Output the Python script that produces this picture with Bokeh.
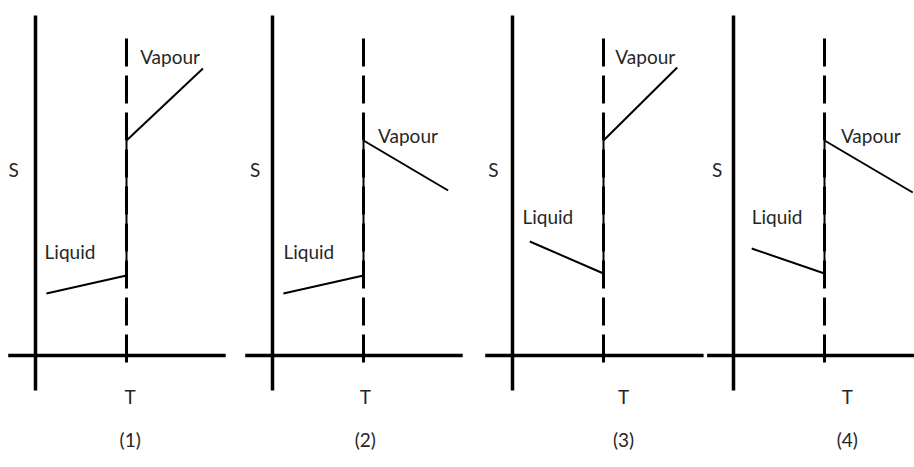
from bokeh.plotting import figure
from bokeh.layouts import row
from bokeh.models import Range1d
from bokeh.core.properties import value
from bokeh.embed import file_html
from bokeh.resources import INLINE

# Entropy (S) against temperature (T) across a phase change, four cases.
# T is in units of the transition temperature, S in arbitrary units.
panel_names = ["(1)", "(2)", "(3)", "(4)"]
T_B = 1.0

liquid_t_start = [0.12, 0.12, 0.19, 0.20]
liquid_s_start = [0.62, 0.62, 1.14, 1.07]
liquid_s_end = [0.80, 0.80, 0.82, 0.82]

vapour_s_start = [2.15, 2.15, 2.15, 2.15]
vapour_t_end = [1.84, 1.93, 1.81, 1.97]
vapour_s_end = [2.87, 1.65, 2.88, 1.63]

# ---- layout ----
PX_PER_T = 91.0
PX_PER_S = 100.0
HEIGHT = 467
ORIGIN_Y_PX = 355
fig_widths = [238, 236, 231, 209]
origin_x_px = [35, 34, 38, 28]

s_axis_span = (-0.35, 3.40)
t_axis_start = [-0.30, -0.30, -0.30, -0.29]
t_axis_end = [2.09, 2.09, 2.10, 2.00]
dash_span = (3.17, -0.08)

# label anchors (left edge / baseline for phase labels)
vapour_label_t = [1.15, 1.16, 1.13, 1.18]
vapour_label_s = [2.99, 2.20, 2.99, 2.20]
liquid_label_t = [0.10, 0.12, 0.11, 0.20]
liquid_label_s = [1.04, 1.04, 1.39, 1.39]
s_label_t = [-0.24, -0.19, -0.21, -0.18]
S_LABEL_S = 1.86
t_label_t = [1.04, 1.02, 1.22, 1.25]
T_LABEL_S = -0.41
NAME_LABEL_S = -0.84

FONT = value("Lato")
FONT_SIZE = "19px"
TEXT_COLOR = "#262626"

s_min = -(HEIGHT - ORIGIN_Y_PX) / PX_PER_S
s_max = ORIGIN_Y_PX / PX_PER_S

figs = []
for i, name in enumerate(panel_names):
    w = fig_widths[i]
    o = origin_x_px[i]
    p = figure(
        width=w, height=HEIGHT,
        x_range=Range1d(-o / PX_PER_T, (w - o) / PX_PER_T),
        y_range=Range1d(s_min, s_max),
        x_axis_type=None, y_axis_type=None,
        output_backend="svg", toolbar_location=None,
        min_border=0, outline_line_color=None,
        background_fill_color="white", border_fill_color="white",
    )
    p.grid.visible = False

    # S and T axes crossing at the origin
    p.segment(x0=[0, t_axis_start[i]], y0=[s_axis_span[0], 0],
              x1=[0, t_axis_end[i]], y1=[s_axis_span[1], 0],
              line_color="black", line_width=3.5)

    # transition temperature isotherm
    p.line(x=[T_B, T_B], y=list(dash_span), line_color="black",
           line_width=3, line_dash="28 9")

    # entropy jump at the transition
    p.line(x=[T_B, T_B], y=[liquid_s_end[i], vapour_s_start[i]],
           line_color="black", line_width=2)

    # liquid branch
    p.line(x=[liquid_t_start[i], T_B], y=[liquid_s_start[i], liquid_s_end[i]],
           line_color="black", line_width=2)

    # vapour branch
    p.line(x=[T_B, vapour_t_end[i]], y=[vapour_s_start[i], vapour_s_end[i]],
           line_color="black", line_width=2)

    p.text(x=[vapour_label_t[i], liquid_label_t[i]],
           y=[vapour_label_s[i], liquid_label_s[i]],
           text=["Vapour", "Liquid"], text_align="left",
           text_baseline="alphabetic", text_font=FONT,
           text_font_size=FONT_SIZE, text_color=TEXT_COLOR)

    p.text(x=[s_label_t[i], t_label_t[i], t_label_t[i]],
           y=[S_LABEL_S, T_LABEL_S, NAME_LABEL_S],
           text=["S", "T", name], text_align="center",
           text_baseline="alphabetic", text_font=FONT,
           text_font_size=FONT_SIZE, text_color=TEXT_COLOR)

    figs.append(p)

layout = row(*figs, spacing=0)
open("out.html", "w").write(file_html(layout, INLINE))
